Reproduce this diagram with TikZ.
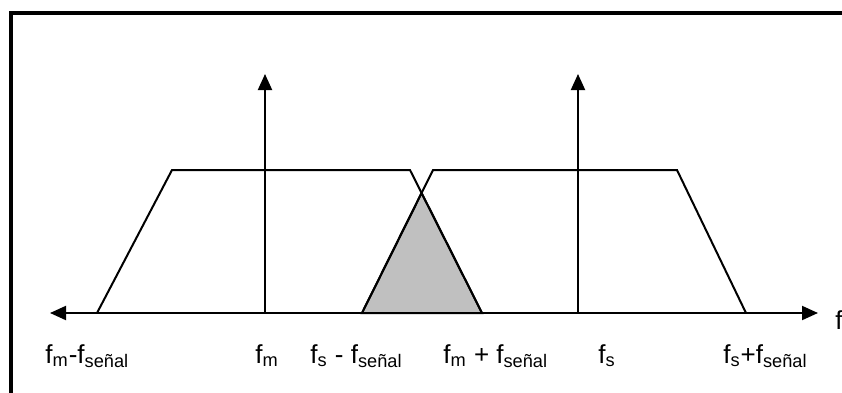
\documentclass[tikz,border=0pt]{standalone}
\usepackage{fontspec}
\setmainfont{Liberation Sans}
\usetikzlibrary{arrows.meta}
\definecolor{overlapgray}{RGB}{192,192,192}
\tikzset{
frame_line/.style={line width=2pt},
axis_line/.style={line width=1pt, {Triangle[length=8pt,width=7pt]}-{Triangle[length=8pt,width=7pt]}},
tone_line/.style={line width=1pt, -{Triangle[length=8pt,width=7pt]}},
band_line/.style={line width=1pt, line join=miter},
overlap/.style={fill=overlapgray, draw, line width=1pt, line join=miter},
freq_label/.style={inner sep=0pt, anchor=base west, font=\fontsize{13}{15}\selectfont}
}
\newcommand{\fsenal}{f\textsubscript{señal}}

\begin{document}
\begin{tikzpicture}[x=0.5pt, y=-0.5pt]
    \useasboundingbox (0,0) rectangle (842,392);
    \clip (0,0) rectangle (842,392);
    \draw[frame_line] (11,430) |- (880,12.5);

    % eje de frecuencias
    \coordinate (ax_left) at (50,313);
    \coordinate (ax_right) at (818,313);
    \coordinate (fm_base) at (265,313);
    \coordinate (fm_top) at (265,74);
    \coordinate (fs_base) at (578,313);
    \coordinate (fs_top) at (578,74);

    % bandas
    \coordinate (lb_1) at (97,313);
    \coordinate (lb_2) at (172,170);
    \coordinate (lb_3) at (410,170);
    \coordinate (lb_4) at (482,313);
    \coordinate (rb_1) at (362,313);
    \coordinate (rb_2) at (433,170);
    \coordinate (rb_3) at (677,170);
    \coordinate (rb_4) at (746,313);
    \coordinate (peak) at (intersection of lb_3--lb_4 and rb_1--rb_2);

    \draw[overlap] (rb_1) -- (peak) -- (lb_4) -- cycle;
    \draw[band_line] (lb_1) -- (lb_2) -- (lb_3) -- (lb_4);
    \draw[band_line] (rb_1) -- (rb_2) -- (rb_3) -- (rb_4);

    \draw[axis_line] (ax_left) -- (ax_right);
    \draw[tone_line] (fm_base) -- (fm_top);
    \draw[tone_line] (fs_base) -- (fs_top);

    \node[freq_label] (lbl_fm_minus) at (45,363) {f\textsubscript{m}-\fsenal};
    \node[freq_label] (lbl_fm) at (255,363) {f\textsubscript{m}};
    \node[freq_label] (lbl_fs_minus) at (310,363) {f\textsubscript{s} - \fsenal};
    \node[freq_label] (lbl_fm_plus) at (443,363) {f\textsubscript{m} + \fsenal};
    \node[freq_label] (lbl_fs) at (598,363) {f\textsubscript{s}};
    \node[freq_label] (lbl_fs_plus) at (723,363) {f\textsubscript{s}+\fsenal};
    \node[freq_label] (lbl_f) at (835,329) {f};
\end{tikzpicture}
\end{document}
